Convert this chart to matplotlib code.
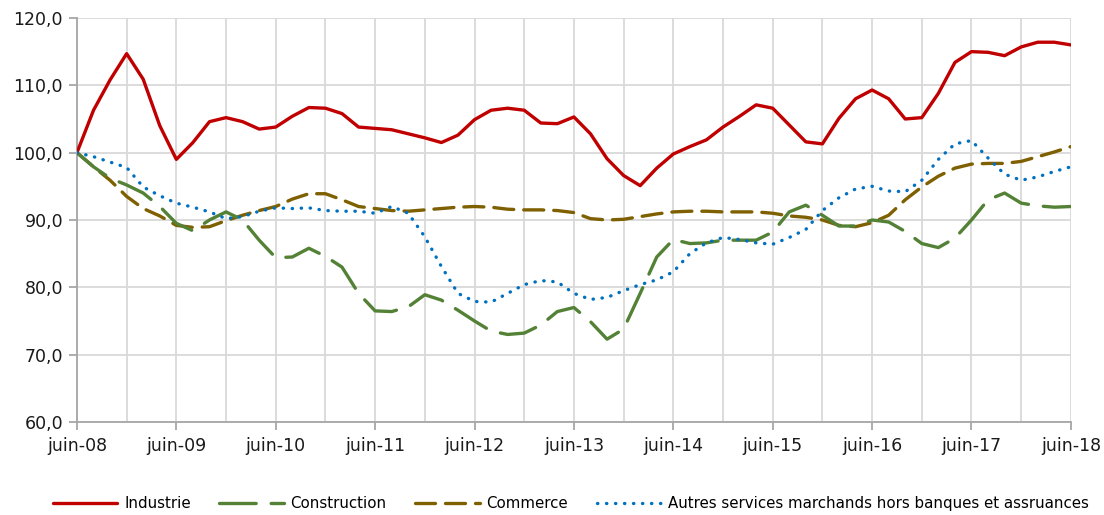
import matplotlib
matplotlib.use("Agg")
import matplotlib.pyplot as plt
import numpy as np

# Séries bimestrielles, juin-08 à juin-18 (base 100 en juin-08)
tick_labels = ["juin-08", "juin-09", "juin-10", "juin-11", "juin-12", "juin-13",
               "juin-14", "juin-15", "juin-16", "juin-17", "juin-18"]

industrie = [
    100.0, 106.3, 110.8, 114.7, 110.9, 104.0, 99.0, 101.5, 104.6, 105.2,
    104.6, 103.5, 103.8, 105.4, 106.7, 106.6, 105.8, 103.8, 103.6, 103.4,
    102.8, 102.2, 101.5, 102.6, 104.9, 106.3, 106.6, 106.3, 104.4, 104.3,
    105.3, 102.8, 99.1, 96.6, 95.1, 97.7, 99.8, 100.9, 101.9, 103.8,
    105.4, 107.1, 106.6, 104.1, 101.6, 101.3, 105.1, 108.0, 109.3, 108.0,
    105.0, 105.2, 108.8, 113.4, 115.0, 114.9, 114.4, 115.7, 116.4, 116.4,
    116.0,
]
construction = [
    100.0, 97.9, 96.2, 95.2, 94.0, 92.0, 89.5, 88.4, 90.0, 91.2,
    90.0, 87.0, 84.4, 84.5, 85.8, 84.6, 83.0, 79.1, 76.5, 76.4,
    77.1, 78.9, 78.1, 76.6, 75.0, 73.5, 73.0, 73.2, 74.4, 76.4,
    77.0, 74.9, 72.3, 73.8, 79.1, 84.5, 87.1, 86.5, 86.6, 87.0,
    87.0, 87.0, 88.2, 91.2, 92.2, 90.7, 89.1, 89.1, 90.0, 89.7,
    88.3, 86.5, 85.9, 87.3, 90.0, 93.0, 94.0, 92.5, 92.1, 91.9,
    92.0,
]
commerce = [
    100.0, 97.9, 95.9, 93.5, 91.7, 90.6, 89.2, 88.9, 89.0, 89.9,
    90.7, 91.4, 92.0, 93.1, 93.9, 93.9, 93.0, 92.0, 91.7, 91.4,
    91.3, 91.5, 91.7, 91.9, 92.0, 91.9, 91.6, 91.5, 91.5, 91.4,
    91.1, 90.2, 90.0, 90.1, 90.5, 90.9, 91.2, 91.3, 91.3, 91.2,
    91.2, 91.2, 91.0, 90.6, 90.4, 90.0, 89.2, 89.0, 89.6, 90.7,
    93.0, 94.9, 96.5, 97.7, 98.3, 98.4, 98.4, 98.7, 99.4, 100.1,
    100.9,
]
autres_services = [
    100.0, 99.4, 98.6, 97.8, 94.9, 93.6, 92.5, 91.9, 91.2, 90.2,
    90.5, 91.3, 91.8, 91.7, 91.8, 91.4, 91.3, 91.3, 91.0, 92.0,
    91.0, 87.5, 83.1, 79.1, 77.9, 77.8, 79.1, 80.4, 81.0, 80.8,
    79.1, 78.2, 78.5, 79.5, 80.4, 81.1, 82.3, 85.0, 86.6, 87.4,
    87.1, 86.6, 86.4, 87.4, 88.6, 91.4, 93.3, 94.6, 95.0, 94.3,
    94.2, 95.9, 99.0, 101.3, 101.8, 99.2, 96.8, 95.9, 96.4, 97.2,
    97.9,
]

x = np.arange(len(industrie))

fig = plt.figure(figsize=(11.04, 5.15), dpi=100)
ax = fig.add_axes([0.0697, 0.1806, 0.9003, 0.7845])

ax.plot(x, industrie, color="#C00000", lw=2.4, label="Industrie",
        solid_capstyle="round", zorder=5)
ax.plot(x, construction, color="#538135", lw=2.4, dashes=(11, 4.5),
        label="Construction", dash_capstyle="round", zorder=4)
ax.plot(x, commerce, color="#7F6000", lw=2.4, dashes=(6, 3),
        label="Commerce", dash_capstyle="round", zorder=3)
ax.plot(x, autres_services, color="#0070C0", lw=2.4, dashes=(0.1, 2.6),
        label="Autres services marchands hors banques et assruances",
        dash_capstyle="round", zorder=6)

ax.set_xlim(0, len(x) - 1)
ax.set_ylim(60, 120)
ax.set_yticks(np.arange(60, 121, 10))
ax.set_yticklabels([f"{v:.1f}".replace(".", ",") for v in np.arange(60, 121, 10)])
ax.set_xticks(np.arange(0, len(x), 6))
ax.set_xticklabels(tick_labels)
ax.set_xticks(np.arange(0, len(x), 3), minor=True)

ax.grid(True, which="both", axis="x", color="#d9d9d9", lw=1.3)
ax.grid(True, which="major", axis="y", color="#d9d9d9", lw=1.3)
ax.set_axisbelow(True)

for side in ["top", "right"]:
    ax.spines[side].set_visible(False)
for side in ["left", "bottom"]:
    ax.spines[side].set_color("#a6a6a6")
    ax.spines[side].set_linewidth(1.3)

ax.tick_params(axis="both", which="major", colors="#a6a6a6", labelcolor="#1a1a1a",
               labelsize=12.5, length=6, width=1.3)
ax.tick_params(axis="x", which="minor", length=0)
ax.tick_params(axis="x", which="major", pad=5)
ax.tick_params(axis="y", which="major", pad=4)

fig.legend(loc="lower center", bbox_to_anchor=(0.517, -0.018), ncol=4,
           frameon=False, fontsize=10.8, handlelength=4.3, handletextpad=0.45,
           columnspacing=1.9)

fig.savefig("out.png", dpi=100)
